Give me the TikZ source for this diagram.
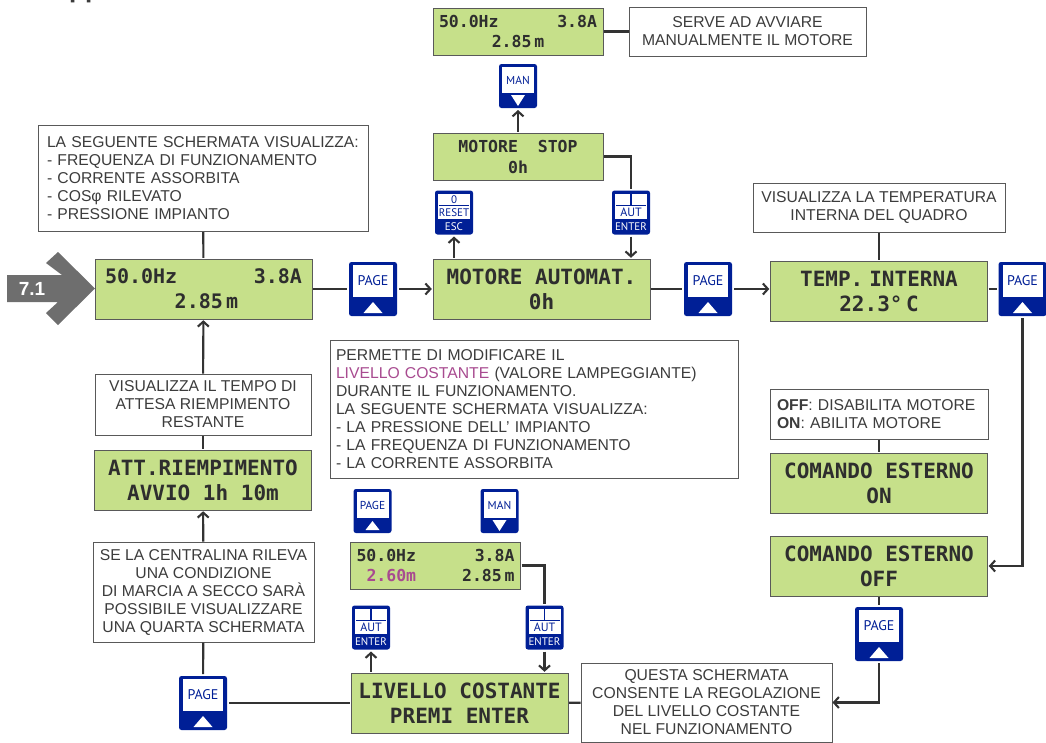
\documentclass[tikz,border=0pt]{standalone}
\usepackage{fontspec}
\setmainfont{Liberation Sans}
\newfontfamily\lcdfont{DejaVu Sans Mono}
\newfontfamily\keyfont{PT Sans}
\usetikzlibrary{arrows.meta}
\definecolor{lcdgreen}{HTML}{C6E08A}
\definecolor{keyblue}{HTML}{001F96}
\definecolor{inktext}{HTML}{3C3C3C}
\definecolor{inkline}{HTML}{333333}
\definecolor{blink}{HTML}{A84B90}
\tikzset{
  lcdbase/.style={draw=black!65,fill=lcdgreen,line width=0.8pt,inner sep=0pt,outer sep=1.2pt,align=center,text=black!82},
  lcdwide/.style={lcdbase,minimum width=217pt,minimum height=60pt,font=\lcdfont\bfseries\fontsize{21}{25}\selectfont},
  lcdmid/.style={lcdbase,minimum width=217pt,minimum height=60pt,text width=197pt,font=\lcdfont\bfseries\fontsize{20}{25}\selectfont},
  lcdlow/.style={lcdbase,minimum width=170pt,minimum height=47pt,text width=158pt,font=\lcdfont\bfseries\fontsize{16.5}{20}\selectfont},
  note/.style={draw=black!65,fill=white,line width=0.8pt,inner sep=0pt,outer sep=0.5pt,text=inktext,font=\fontsize{15.7}{18}\selectfont},
  keybase/.style={fill=keyblue,rounded corners=2.5pt,inner sep=0pt,outer sep=2pt},
  keylabel/.style={text=keyblue,inner sep=0pt,font=\keyfont\fontsize{#1}{#1}\selectfont},
  keywhite/.style={text=white,inner sep=0pt,font=\keyfont\fontsize{11}{11}\selectfont},
  bigkey/.style={keybase,minimum width=48pt,minimum height=54pt,path picture={
    \begin{scope}[sharp corners,shift={(path picture bounding box.center)}]
      \fill[white] (-20,-24) rectangle (20,8);
      \node[keylabel=14] at (0,-8) {#1};
      \fill[white] (-9.5,24) -- (9.5,24) -- (0,13) -- cycle;
    \end{scope}}},
  upkey/.style={keybase,minimum width=38pt,minimum height=44pt,path picture={
    \begin{scope}[sharp corners,shift={(path picture bounding box.center)}]
      \fill[white] (-16,-19) rectangle (16,7);
      \node[keylabel=11.5] at (0,-6) {#1};
      \fill[white] (-7,19) -- (7,19) -- (0,10) -- cycle;
    \end{scope}}},
  downkey/.style={keybase,minimum width=38pt,minimum height=44pt,path picture={
    \begin{scope}[sharp corners,shift={(path picture bounding box.center)}]
      \fill[white] (-16,-19) rectangle (16,7);
      \node[keylabel=11.5] at (0,-6) {#1};
      \fill[white] (-7,9) -- (7,9) -- (0,20) -- cycle;
    \end{scope}}},
  enterkey/.style={keybase,minimum width=38pt,minimum height=44pt,path picture={
    \begin{scope}[sharp corners,shift={(path picture bounding box.center)}]
      \fill[white] (-16,-19) rectangle (16,6.5);
      \fill[keyblue] (-0.7,-19) rectangle (0.7,-8);
      \fill[keyblue] (-15,-7.7) rectangle (15,-6.7);
      \node[keylabel=12] at (0,0) {AUT};
      \node[keywhite] at (0,14) {ENTER};
    \end{scope}}},
  resetkey/.style={keybase,minimum width=38pt,minimum height=44pt,path picture={
    \begin{scope}[sharp corners,shift={(path picture bounding box.center)}]
      \fill[white] (-16,-19) rectangle (16,6.5);
      \node[keylabel=11] at (0,-13) {0};
      \fill[keyblue] (-15,-7.7) rectangle (15,-6.7);
      \node[keylabel=11] at (0,0) {RESET};
      \node[keywhite] at (0,14) {ESC};
    \end{scope}}},
  wire/.style={draw=inkline,line width=2.1pt,>={Straight Barb[length=5pt,width=11pt]}},
}
\begin{document}
\begin{tikzpicture}[x=1pt,y=-1pt]
    \useasboundingbox (0,0) rectangle (1046,742);
    % cut-off heading
    \node[anchor=base west,inner sep=0pt,font=\bfseries\fontsize{26}{26}\selectfont,text=inktext] (heading) at (69,-3) {pp};
    % entry mark
    \fill[black!57] (7,275) -- (62,275) -- (46,263) -- (58,252) -- (95,288.5) -- (58,325) -- (46,313) -- (58,302) -- (7,302) -- cycle;
    \node[text=white,inner sep=0pt,font=\bfseries\fontsize{19}{19}\selectfont] (entry) at (32,288.5) {7.1};
    % screens
    \node[lcdmid] (mainA) at (203.5,289) {50.0Hz\hfill 3.8A\\\hfill\hspace{6pt}2.85\,m\hfill\null};
    \node[lcdwide] (motAuto) at (541.5,289) {MOTORE AUTOMAT.\\0h};
    \node[lcdbase,minimum width=170pt,minimum height=47pt,font=\lcdfont\bfseries\fontsize{16.5}{21}\selectfont] (motStop) at (518,156.5) {MOTORE~~STOP\\0h};
    \node[lcdlow] (mainB) at (518,31.5) {50.0Hz\hfill 3.8A\\\hfill 2.85\,m\hfill\null};
    \node[lcdwide] (tempInt) at (879,291) {TEMP.\hspace{6pt}INTERNA\\22.3°\,C};
    \node[lcdwide] (extOn) at (879,483) {COMANDO ESTERNO\\ON};
    \node[lcdwide] (extOff) at (879,566) {COMANDO ESTERNO\\OFF};
    \node[lcdwide] (levelSet) at (459.5,703) {LIVELLO COSTANTE\\PREMI ENTER};
    \node[lcdlow] (levelRun) at (435.5,565.5) {50.0Hz\hfill 3.8A\\\hspace*{10pt}\textcolor{blink}{2.60m}\hfill 2.85\,m};
    \node[lcdwide] (fillWait) at (203,480) {ATT.RIEMPIMENTO\\AVVIO 1h 10m};
    % notes
    \node[note,minimum width=330pt,minimum height=106pt,text width=312pt,align=left] (noteMain) at (203,178.5) {LA SEGUENTE SCHERMATA VISUALIZZA:\\- FREQUENZA DI FUNZIONAMENTO\\- CORRENTE ASSORBITA\\- COSφ RILEVATO\\- PRESSIONE IMPIANTO};
    \node[note,minimum width=237pt,minimum height=49pt,align=center] (noteMan) at (747.5,31.5) {SERVE AD AVVIARE\\MANUALMENTE IL MOTORE};
    \node[note,minimum width=252pt,minimum height=49pt,align=center] (noteTemp) at (879,207.5) {VISUALIZZA LA TEMPERATURA\\INTERNA DEL QUADRO};
    \node[note,minimum width=218pt,minimum height=50pt,text width=204pt,align=left] (noteExt) at (879,414) {\textbf{OFF}: DISABILITA MOTORE\\\textbf{ON}: ABILITA MOTORE};
    \node[note,minimum width=408pt,minimum height=138pt,text width=396pt,align=left] (noteLevel) at (534,409) {PERMETTE DI MODIFICARE IL\\\textcolor{blink}{LIVELLO COSTANTE} (VALORE LAMPEGGIANTE)\\DURANTE IL FUNZIONAMENTO.\\LA SEGUENTE SCHERMATA VISUALIZZA:\\- LA PRESSIONE DELL’ IMPIANTO\\- LA FREQUENZA DI FUNZIONAMENTO\\- LA CORRENTE ASSORBITA};
    \node[note,minimum width=216pt,minimum height=61pt,align=center] (noteWait) at (203,404.5) {VISUALIZZA IL TEMPO DI\\ATTESA RIEMPIMENTO\\RESTANTE};
    \node[note,minimum width=221pt,minimum height=100pt,align=center] (noteDry) at (203.5,592) {SE LA CENTRALINA RILEVA\\UNA CONDIZIONE\\DI MARCIA A SECCO SARÀ\\POSSIBILE VISUALIZZARE\\UNA QUARTA SCHERMATA};
    \node[note,minimum width=251pt,minimum height=79pt,align=center] (noteSet) at (706.5,702.5) {QUESTA SCHERMATA\\CONSENTE LA REGOLAZIONE\\DEL LIVELLO COSTANTE\\NEL FUNZIONAMENTO};
    % keys
    \node[bigkey=PAGE] (pageA) at (373,289) {};
    \node[bigkey=PAGE] (pageB) at (708,289) {};
    \node[bigkey=PAGE] (pageC) at (1022.5,289) {};
    \node[bigkey=PAGE] (pageD) at (879,634) {};
    \node[bigkey=PAGE] (pageE) at (203,703) {};
    \node[upkey=PAGE] (pageF) at (372.5,511) {};
    \node[downkey=MAN] (manA) at (518,86) {};
    \node[downkey=MAN] (manB) at (499.5,511) {};
    \node[resetkey] (resetA) at (454,212.5) {};
    \node[enterkey] (enterA) at (631,212.5) {};
    \node[enterkey] (enterB) at (371,627.5) {};
    \node[enterkey] (enterC) at (544.5,627.5) {};
    % connectors
    \draw[wire]
    (noteMain) edge (mainA)
    (mainA) edge (pageA)
    (pageA) edge[->] (motAuto)
    (motAuto) edge (pageB)
    (pageB) edge[->] (pageB -| tempInt.west)
    (noteTemp) edge (tempInt)
    (pageC -| tempInt.east) edge (pageC)
    (noteExt) edge (extOn)
    (extOff) edge (pageD)
    (mainB) edge (noteMan)
    (motStop) edge[->] (manA)
    (resetA |- motAuto.north) edge[->] (resetA)
    (enterA) edge[->] (enterA |- motAuto.north)
    (enterB |- levelSet.north) edge[->] (enterB)
    (enterC) edge[->] (enterC |- levelSet.north)
    (noteSet) edge (levelSet)
    (levelSet) edge (pageE)
    (pageE) edge (noteDry)
    (noteDry) edge[->] (fillWait)
    (fillWait) edge (noteWait)
    (noteWait) edge[->] (mainA);
    \draw[wire,->] (pageC) |- (extOff);
    \draw[wire,->] (pageD) |- (noteSet);
    \draw[wire] (motStop) -| (enterA);
    \draw[wire] (levelRun) -| (enterC);
  \end{tikzpicture}
\end{document}
